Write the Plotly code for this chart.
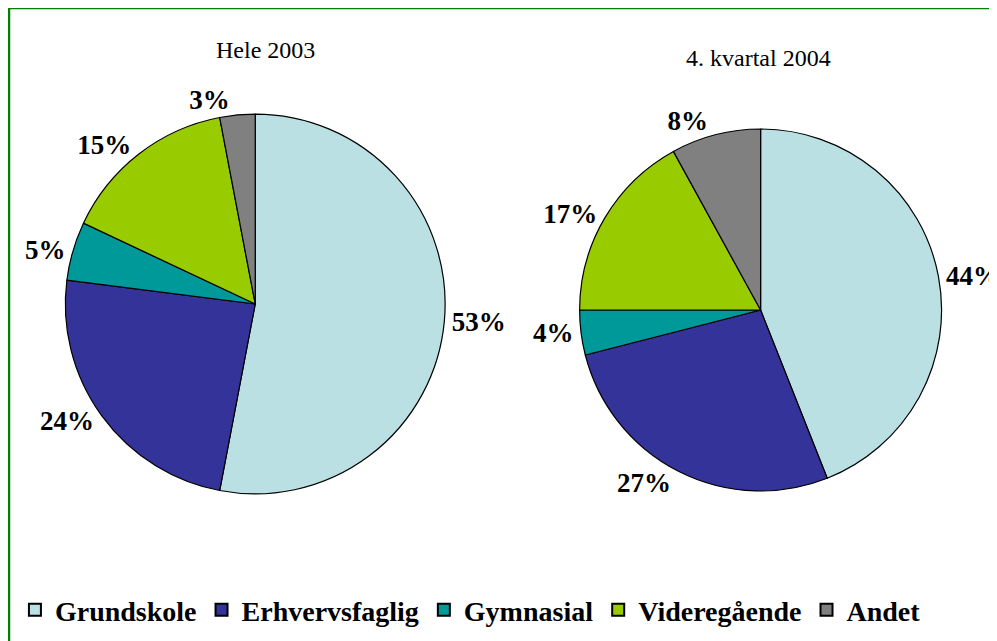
import plotly.graph_objects as go

categories = ["Grundskole", "Erhvervsfaglig", "Gymnasial", "Videregående", "Andet"]
values_2003 = [53, 24, 5, 15, 3]
values_2004 = [44, 27, 4, 17, 8]
titles = ["Hele 2003", "4. kvartal 2004"]
colors = ["#BBE0E3", "#333399", "#009999", "#99CC00", "#808080"]

W, H = 997, 641
OFF = 8      # page body margin offset
SERIF = "Liberation Serif"

def px(x):
    return (x - OFF) / W

def py(y):
    return 1 - (y - OFF) / H

def dom(cx, cy, r):
    return dict(x=[px(cx - r), px(cx + r)], y=[py(cy + r), py(cy - r)])

fig = go.Figure()
for vals, (cx, cy, r), show in [(values_2003, (258, 304, 192), True),
                                 (values_2004, (769, 310, 183), False)]:
    fig.add_trace(go.Pie(
        labels=categories, values=vals, sort=False, direction="clockwise", rotation=0,
        marker=dict(colors=colors, line=dict(color="black", width=1.2)),
        texttemplate="%{value}%", textposition="outside",
        outsidetextfont=dict(family=SERIF, size=27, color="black", weight="bold"),
        domain=dom(cx, cy, r), showlegend=show, hoverinfo="label+value",
    ))

fig.add_annotation(text=titles[0], x=px(268), y=py(50), xref="paper", yref="paper",
                   xanchor="center", yanchor="middle",
                   showarrow=False, font=dict(family=SERIF, size=24, color="black"))
fig.add_annotation(text=titles[1], x=px(767), y=py(58), xref="paper", yref="paper",
                   xanchor="center", yanchor="middle",
                   showarrow=False, font=dict(family=SERIF, size=24, color="black"))

fig.add_shape(type="rect", xref="paper", yref="paper", x0=px(9), x1=1.05, y0=-0.05, y1=py(8),
              line=dict(color="#008000", width=2.5), fillcolor="rgba(0,0,0,0)")

fig.update_layout(
    width=W, height=H, margin=dict(l=0, r=0, t=0, b=0),
    paper_bgcolor="white", plot_bgcolor="white",
    legend=dict(orientation="h", x=px(15), y=py(610), xanchor="left", yanchor="middle",
                font=dict(family=SERIF, size=28, color="black", weight="bold"),
                itemsizing="constant", traceorder="normal", bgcolor="rgba(0,0,0,0)"),
)

fig.write_html("out.html")
